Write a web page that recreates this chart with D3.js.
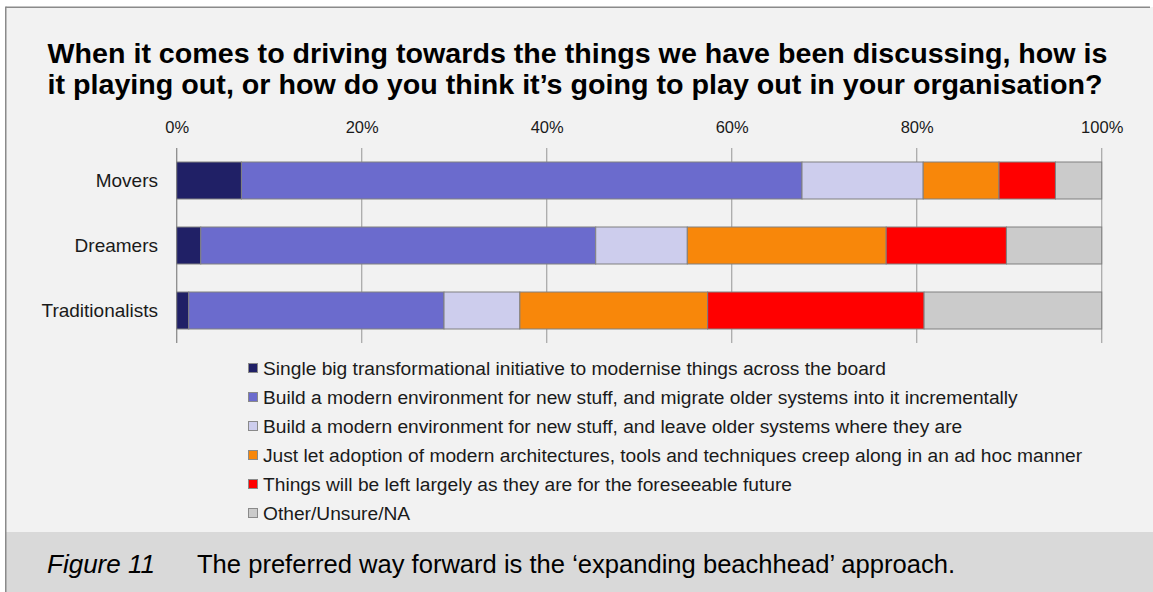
<!DOCTYPE html>
<html>
<head>
<meta charset="utf-8">
<script src="https://cdn.jsdelivr.net/npm/d3@7"></script>
<style>
  html, body { margin: 0; padding: 0; background: #ffffff; }
  svg { display: block; font-family: "Liberation Sans", Arial, Helvetica, sans-serif; }
</style>
</head>
<body>
<svg id="chart" width="1153" height="592"></svg>
<script>
// Survey segments (rows) and the answer options (stacked series)
const categories = ["Movers", "Dreamers", "Traditionalists"];

const seriesNames = [
  "Single big transformational initiative to modernise things across the board",
  "Build a modern environment for new stuff, and migrate older systems into it incrementally",
  "Build a modern environment for new stuff, and leave older systems where they are",
  "Just let adoption of modern architectures, tools and techniques creep along in an ad hoc manner",
  "Things will be left largely as they are for the foreseeable future",
  "Other/Unsure/NA"
];

// Share of respondents (%) per segment, one array per answer option
const singleBig    = [7.0, 2.6, 1.3];
const migrateInc   = [60.6, 42.7, 27.6];
const leaveOlder   = [13.1, 9.9, 8.2];
const adHoc        = [8.2, 21.5, 20.3];
const leftAsIs     = [6.1, 13.0, 23.4];
const otherUnsure  = [5.0, 10.3, 19.2];

const tickValues = [0, 20, 40, 60, 80, 100];

const colors = ["#202066", "#6b6bcd", "#cdcded", "#f8870a", "#ff0000", "#cbcbcb"];

const titleLines = [
  "When it comes to driving towards the things we have been discussing, how is",
  "it playing out, or how do you think it\u2019s going to play out in your organisation?"
];
const titleWidths = [1060, 1055];
const figureLabel = "Figure 11";
const captionText = "The preferred way forward is the \u2018expanding beachhead\u2019 approach.";

// ---- build stacked table ----
const valueLists = [singleBig, migrateInc, leaveOlder, adHoc, leftAsIs, otherUnsure];
const keys = seriesNames.map((_, i) => "s" + i);
const table = categories.map((c, ci) => {
  const row = { category: c };
  keys.forEach((k, si) => { row[k] = valueLists[si][ci]; });
  return row;
});
const stacked = d3.stack().keys(keys)(table);

const svg = d3.select("#chart");
const W = 1153, H = 592;

// panel background and frame
svg.append("rect").attr("x", 6).attr("y", 7).attr("width", W - 6).attr("height", H - 7).attr("fill", "#f2f2f2");
svg.append("rect").attr("x", 6).attr("y", 532).attr("width", W - 6).attr("height", H - 532).attr("fill", "#d9d9d9");
svg.append("line").attr("x1", 6).attr("x2", 1150).attr("y1", 7.25).attr("y2", 7.25)
  .attr("stroke", "#8a8a8a").attr("stroke-width", 1.5);
svg.append("line").attr("x1", 5.75).attr("x2", 5.75).attr("y1", 6.5).attr("y2", H)
  .attr("stroke", "#8a8a8a").attr("stroke-width", 1.5);

// title
svg.append("g").selectAll("text").data(titleLines).join("text")
  .attr("x", 47.5).attr("y", (d, i) => 63 + i * 30.5)
  .attr("font-size", 27).attr("font-weight", "bold").attr("fill", "#000")
  .attr("textLength", (d, i) => titleWidths[i]).attr("lengthAdjust", "spacingAndGlyphs")
  .text(d => d);

// scales
const x = d3.scaleLinear().domain([0, 100]).range([176.7, 1101.7]);
const y = d3.scaleBand().domain(categories).range([148, 343]).paddingInner(0.431).paddingOuter(0.2155);

// gridlines
const grid = svg.append("g");
grid.selectAll("line").data(tickValues).join("line")
  .attr("x1", d => x(d)).attr("x2", d => x(d))
  .attr("y1", 148).attr("y2", 343)
  .attr("stroke", d => d === 0 ? "#8c8c8c" : "#ababab")
  .attr("stroke-width", 1.3);

// top axis labels
const xAxis = d3.axisTop(x).tickValues(tickValues).tickFormat(d => d + "%").tickSize(0).tickPadding(0);
const ax = svg.append("g").attr("transform", "translate(0,133)").call(xAxis);
ax.select(".domain").remove();
ax.selectAll("text").attr("font-size", 16.5).attr("fill", "#1a1a1a")
  .attr("font-family", "Liberation Sans, Arial, sans-serif").attr("dy", 0);

// category labels
const yAxis = d3.axisLeft(y).tickSize(0).tickPadding(0);
const ay = svg.append("g").attr("transform", "translate(158,0)").call(yAxis);
ay.select(".domain").remove();
ay.selectAll("text").attr("font-size", 19).attr("fill", "#1a1a1a")
  .attr("font-family", "Liberation Sans, Arial, sans-serif");

// stacked bars
svg.append("g").selectAll("g").data(stacked).join("g")
  .attr("fill", (d, i) => colors[i])
  .selectAll("rect").data(d => d).join("rect")
  .attr("x", d => x(d[0]))
  .attr("y", d => y(d.data.category))
  .attr("width", d => x(d[1]) - x(d[0]))
  .attr("height", y.bandwidth())
  .attr("stroke", "#808080").attr("stroke-width", 1);

// legend
const legend = svg.append("g").attr("transform", "translate(248,0)");
const items = legend.selectAll("g").data(seriesNames).join("g")
  .attr("transform", (d, i) => `translate(0,${375 + i * 29})`);
items.append("rect").attr("x", 0.5).attr("y", -11.5).attr("width", 9).attr("height", 9)
  .attr("fill", (d, i) => colors[i]).attr("stroke", "#8a8a8a").attr("stroke-width", 1);
items.append("text").attr("x", 15).attr("y", 0)
  .attr("font-size", 19.2).attr("fill", "#1a1a1a").text(d => d);

// caption
svg.append("text").attr("x", 47).attr("y", 573)
  .attr("font-size", 26).attr("font-style", "italic").attr("fill", "#000")
  .attr("textLength", 108).attr("lengthAdjust", "spacingAndGlyphs")
  .text(figureLabel);
svg.append("text").attr("x", 197).attr("y", 573)
  .attr("font-size", 26).attr("fill", "#000")
  .attr("textLength", 758).attr("lengthAdjust", "spacingAndGlyphs")
  .text(captionText);
</script>
</body>
</html>
